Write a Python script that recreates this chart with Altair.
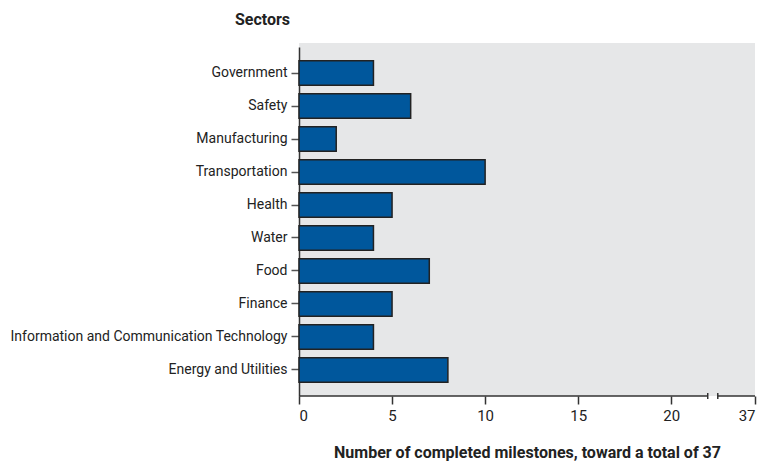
import altair as alt
import pandas as pd

sectors = ["Government", "Safety", "Manufacturing", "Transportation", "Health",
           "Water", "Food", "Finance", "Information and Communication Technology",
           "Energy and Utilities"]
milestones = [4, 6, 2, 10, 5, 4, 7, 5, 4, 8]

tick_values = [0, 5, 10, 15, 20, 24.5]
tick_labels = ["0", "5", "10", "15", "20", "37"]

FONT = "Roboto, sans-serif"
W, H = 456, 353

df = pd.DataFrame({"sector": sectors, "value": milestones})

label_expr = " : ".join(
    [f"datum.value == {v} ? '{l}'" for v, l in zip(tick_values, tick_labels)]
) + " : ''"

x_scale = alt.Scale(domain=[0, 24.5], nice=False, zero=True)

bars = alt.Chart(df).mark_bar(
    color="#00579c", stroke="#222222", strokeWidth=1.5
).encode(
    x=alt.X("value:Q", scale=x_scale,
            axis=alt.Axis(values=tick_values, labelExpr=label_expr, domain=False,
                          title="Number of completed milestones, toward a total of 37",
                          tickSize=8, tickColor="#333333", tickWidth=1.5,
                          labelFontSize=15, labelColor="#222222", labelPadding=4,
                          titleFontSize=16, titleFontWeight="bold", titleColor="#222222",
                          titlePadding=21, grid=False, labelFont=FONT, titleFont=FONT)),
    y=alt.Y("sector:N", sort=sectors,
            scale=alt.Scale(paddingInner=0.26, paddingOuter=0.418, range=[4, H]),
            axis=alt.Axis(title="Sectors", titleAngle=0, titleAlign="center",
                          titleBaseline="middle", titleX=-37, titleY=-24,
                          titleFontSize=16, titleFontWeight="bold", titleColor="#222222",
                          tickSize=8, tickColor="#555555", tickWidth=1.5,
                          domainColor="#333333", domainWidth=1.5,
                          labelFontSize=14, labelColor="#222222", labelPadding=4,
                          labelLimit=0, labelFont=FONT, titleFont=FONT, grid=False)),
)

seg_start = [0, 22.5]
seg_end = [21.96, 24.5]
seg_df = pd.DataFrame({"a": seg_start, "b": seg_end})

axis_line = alt.Chart(seg_df).mark_rule(color="#333333", strokeWidth=1.5).encode(
    x=alt.X("a:Q", scale=x_scale),
    x2="b:Q",
    y=alt.value(H),
)

break_df = pd.DataFrame({"p": [21.96, 22.5]})
break_ticks = alt.Chart(break_df).mark_rule(color="#333333", strokeWidth=1.5).encode(
    x=alt.X("p:Q", scale=x_scale),
    y=alt.value(H - 3),
    y2=alt.value(H + 3),
)

chart = alt.layer(bars, axis_line, break_ticks).properties(
    width=W, height=H, background="white",
    padding={"left": 1, "top": 3, "right": 5, "bottom": 5}
).configure_view(
    fill="#e6e7e8", stroke=None
)

chart.save("out.html", embed_options={"renderer": "svg", "actions": False})
